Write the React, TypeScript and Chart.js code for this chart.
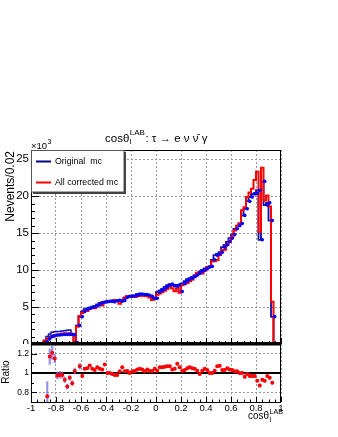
import React, { useEffect, useRef } from 'react';
import { Chart, registerables } from 'chart.js';
Chart.register(...registerables);

const FONT = '"Liberation Sans", Arial, Helvetica, sans-serif';

const binLow = -1;
const binWidth = 0.02;

// Original mc (blue markers), in units of 10^3 events / 0.02
const originalPts = [
  0, 0, 0, 0, 0, 0, 0.3, 0.7, 1.0, 1.1,
  1.2, 1.22, 1.25, 1.28, 1.3, 1.3, 1.32, 1.25, 0.2, 2.5,
  3.7, 4.4, 4.7, 4.8, 4.95, 5.05, 5.15, 5.35, 5.55, 5.65,
  5.7, 5.75, 5.8, 5.7, 5.85, 5.9, 5.8, 5.9, 6.3, 6.45,
  6.5, 6.5, 6.55, 6.75, 6.75, 6.7, 6.7, 6.6, 6.45, 6.2,
  6.2, 7.05, 7.25, 7.45, 7.7, 7.95, 8.1, 7.9, 7.85, 8.0,
  7.1, 8.2, 8.5, 8.75, 8.9, 9.1, 9.3, 9.55, 9.8, 10.0,
  10.2, 10.4, 10.5, 11.4, 12.0, 12.2, 12.4, 13.1, 13.4, 13.85,
  14.3, 14.8, 15.6, 16.0, 16.3, 17.4, 18.3, 19.3, 19.9, 20.3,
  20.4, 20.8, 14.1, 22.0, 18.8, 19.1, 16.7, 3.7, 0, 0,
];

// Original mc histogram outline (blue line)
const originalHist = [
  0, 0, 0, 0, 0, 0, 0.5, 1.0, 1.35, 1.6,
  1.65, 1.7, 1.7, 1.75, 1.8, 1.85, 1.9, 1.4, 0.2, 2.5,
  3.7, 4.4, 4.7, 4.8, 4.95, 5.05, 5.15, 5.35, 5.55, 5.65,
  5.7, 5.75, 5.8, 5.7, 5.85, 5.9, 5.8, 5.9, 6.3, 6.45,
  6.5, 6.5, 6.55, 6.75, 6.75, 6.7, 6.7, 6.6, 6.45, 6.2,
  6.2, 7.05, 7.25, 7.45, 7.7, 7.95, 8.1, 7.9, 7.85, 8.0,
  7.1, 8.2, 8.5, 8.75, 8.9, 9.1, 9.3, 9.55, 9.8, 10.0,
  10.2, 10.4, 10.5, 11.4, 12.0, 12.2, 12.4, 13.1, 13.4, 13.85,
  14.3, 14.8, 15.6, 16.0, 16.3, 17.4, 18.3, 19.3, 19.9, 20.3,
  20.4, 20.8, 14.1, 22.0, 18.8, 19.1, 16.7, 3.7, 0, 0,
];

// All corrected mc (red histogram)
const corrected = [
  0, 0, 0, 0, 0, 0, 0.4, 0.6, 0.83, 0.95,
  1.23, 1.25, 1.28, 1.38, 1.45, 1.37, 1.45, 1.22, 0, 2.35,
  3.8, 4.2, 4.5, 4.45, 4.75, 4.9, 4.85, 5.1, 5.35, 5.2,
  5.7, 5.75, 5.85, 5.8, 5.95, 5.8, 5.45, 5.8, 6.2, 6.45,
  6.4, 6.35, 6.35, 6.45, 6.5, 6.6, 6.5, 6.45, 6.3, 5.95,
  6.05, 6.65, 6.85, 7.0, 7.2, 7.45, 7.8, 7.55, 7.15, 7.55,
  6.95, 7.95, 8.1, 8.25, 8.5, 8.7, 9.1, 9.65, 9.55, 9.55,
  9.9, 10.4, 10.5, 11.15, 11.2, 11.35, 12.05, 12.7, 12.75, 13.4,
  13.9, 14.55, 15.35, 16.0, 16.3, 18.1, 18.5, 19.9, 20.5, 21.0,
  22.2, 23.3, 15.2, 23.85, 19.4, 20.1, 18.6, 5.7, 0, 0,
];

// Ratio points
const ratio = [
  null, null, null, null, null, null, 0.76, 1.17, 1.21, 1.15,
  0.975, 0.98, 0.98, 0.93, 0.86, 0.95, 0.895, 1.02, null, 1.07,
  0.97, 1.045, 1.05, 1.077, 1.045, 1.03, 1.06, 1.045, 1.035, 1.087,
  1.0, 1.0, 0.99, 0.98, 0.98, 1.017, 1.06, 1.017, 1.02, 1.0,
  1.017, 1.02, 1.035, 1.045, 1.035, 1.017, 1.035, 1.02, 1.02, 1.045,
  1.024, 1.06, 1.06, 1.065, 1.07, 1.07, 1.035, 1.045, 1.095, 1.06,
  1.024, 1.03, 1.05, 1.06, 1.05, 1.045, 1.024, 0.99, 1.024, 1.045,
  1.03, 1.0, 1.0, 1.024, 1.07, 1.075, 1.03, 1.03, 1.05, 1.035,
  1.03, 1.017, 1.017, 1.0, 1.0, 0.96, 0.99, 0.97, 0.97, 0.97,
  0.92, 0.87, 0.93, 0.92, 0.97, 0.95, 0.9, null, null, null,
];

const ratioErr = [
  0, 0, 0, 0, 0, 0, 0.15, 0.08, 0.07, 0.045,
  0.035, 0.035, 0.03, 0.03, 0.025, 0.025, 0.025, 0.03, 0, 0.03,
  0.02, 0.012, 0.012, 0.012, 0.012, 0.012, 0.012, 0.012, 0.012, 0.012,
  0.012, 0.012, 0.012, 0.012, 0.012, 0.012, 0.012, 0.012, 0.012, 0.012,
  0.012, 0.012, 0.012, 0.012, 0.012, 0.012, 0.012, 0.012, 0.012, 0.012,
  0.012, 0.012, 0.012, 0.012, 0.012, 0.012, 0.012, 0.012, 0.012, 0.012,
  0.012, 0.012, 0.012, 0.012, 0.012, 0.012, 0.012, 0.012, 0.012, 0.012,
  0.012, 0.012, 0.012, 0.012, 0.012, 0.012, 0.012, 0.012, 0.012, 0.012,
  0.012, 0.012, 0.012, 0.012, 0.012, 0.015, 0.015, 0.015, 0.015, 0.015,
  0.015, 0.015, 0.015, 0.015, 0.015, 0.015, 0.015, 0, 0, 0,
];

const xTickValues = [-1, -0.8, -0.6, -0.4, -0.2, 0, 0.2, 0.4, 0.6, 0.8, 1];
const xTickLabels = ['-1', '-0.8', '-0.6', '-0.4', '-0.2', '0', '0.2', '0.4', '0.6', '0.8', '1'];
const topTickValues = [0, 5, 10, 15, 20, 25];
const topTickLabels = ['0', '5', '10', '15', '20', '25'];
const ratioTickValues = [0.8, 1, 1.2];
const ratioTickLabels = ['0.8', '1', '1.2'];
const legendLabels = ['Original  mc', 'All corrected mc'];
const yTitle = 'Nevents/0.02';
const ratioTitle = 'Ratio';

const BLUE_LINE = '#1414a8';
const BLUE_PT = '#0000ff';
const RED = '#ff0000';
const GRID = '#9a9a9a';

function stepSeries(vals: number[]) {
  const pts = vals.map((v, i) => ({ x: binLow + i * binWidth, y: v }));
  pts.push({ x: binLow + vals.length * binWidth, y: vals[vals.length - 1] });
  return pts;
}
function centerPoints(vals: (number | null)[]) {
  const out: { x: number; y: number }[] = [];
  vals.forEach((v, i) => {
    if (v !== null && v > 0) out.push({ x: binLow + (i + 0.5) * binWidth, y: v });
  });
  return out;
}
function errorBars(vals: (number | null)[], errs: number[]) {
  const out: { x: number; y: [number, number] }[] = [];
  vals.forEach((v, i) => {
    if (v !== null && errs[i] > 0) out.push({ x: binLow + (i + 0.5) * binWidth, y: [v - errs[i], v + errs[i]] });
  });
  return out;
}

function line(ctx: CanvasRenderingContext2D, x1: number, y1: number, x2: number, y2: number) {
  ctx.beginPath();
  ctx.moveTo(x1, y1);
  ctx.lineTo(x2, y2);
  ctx.stroke();
}

const topDecor = {
  id: 'topDecor',
  afterDraw(chart: any) {
    const { ctx, chartArea: a, scales } = chart;
    const x = scales.x, y = scales.y;
    ctx.save();
    ctx.strokeStyle = '#000';
    ctx.lineWidth = 1;
    // y ticks (inside)
    for (let k = 0; k <= 26; k++) {
      const py = Math.round(y.getPixelForValue(k)) + 0.5;
      const len = k % 5 === 0 ? 8 : 4;
      line(ctx, a.left, py, a.left + len, py);
    }
    // x ticks at bottom of top pad
    for (let k = 0; k <= 40; k++) {
      const v = -1 + k * 0.05;
      const px = Math.round(x.getPixelForValue(v)) + 0.5;
      const len = k % 4 === 0 ? 6 : 3;
      line(ctx, px, a.bottom, px, a.bottom - len);
    }
    // frame
    ctx.strokeRect(a.left + 0.5, a.top + 0.5, a.right - a.left - 1, a.bottom - a.top);
    ctx.lineWidth = 2;
    line(ctx, a.left, a.bottom - 1, a.right, a.bottom - 1);

    // title
    ctx.fillStyle = '#000';
    ctx.textAlign = 'left';
    ctx.textBaseline = 'alphabetic';
    let tx = 105;
    const tb = 141.5;
    ctx.font = `11.5px ${FONT}`;
    ctx.fillText('cosθ', tx, tb);
    tx += ctx.measureText('cosθ').width;
    ctx.font = `8px ${FONT}`;
    ctx.fillText('LAB', tx + 0.5, tb - 6.5);
    ctx.fillText('l', tx + 0.5, tb + 2.5);
    tx += ctx.measureText('LAB').width + 1;
    ctx.font = `11.5px ${FONT}`;
    ctx.fillText(': τ → e ν ν̄ γ', tx, tb);

    // x10^3
    ctx.font = `9.5px ${FONT}`;
    ctx.fillText('×10', 31, 148.5);
    const w10 = ctx.measureText('×10').width;
    ctx.font = `7px ${FONT}`;
    ctx.fillText('3', 31 + w10 + 0.5, 144);

    // y title
    ctx.save();
    ctx.translate(10.5, 151);
    ctx.rotate(-Math.PI / 2);
    ctx.font = `12px ${FONT}`;
    ctx.textAlign = 'right';
    ctx.textBaseline = 'middle';
    ctx.fillText(yTitle, 0, 0);
    ctx.restore();

    // legend
    ctx.fillStyle = '#fff';
    ctx.fillRect(31.5, 150.5, 92.5, 41.5);
    ctx.strokeStyle = '#555';
    ctx.lineWidth = 1;
    ctx.strokeRect(31.5, 150.5, 92.5, 41.5);
    ctx.strokeStyle = '#444';
    ctx.lineWidth = 2;
    ctx.beginPath();
    ctx.moveTo(33, 193);
    ctx.lineTo(125, 193);
    ctx.lineTo(125, 152);
    ctx.stroke();
    ctx.lineWidth = 2;
    ctx.strokeStyle = '#000088';
    line(ctx, 36, 161.5, 51, 161.5);
    ctx.strokeStyle = RED;
    line(ctx, 36, 182.5, 51, 182.5);
    ctx.fillStyle = '#000';
    ctx.font = `8.8px ${FONT}`;
    ctx.textBaseline = 'middle';
    ctx.textAlign = 'left';
    ctx.fillText(legendLabels[0], 55, 161.5);
    ctx.fillText(legendLabels[1], 55, 182.5);
    ctx.restore();
  },
};

const ratioDecor = {
  id: 'ratioDecor',
  beforeDatasetsDraw(chart: any) {
    const { ctx, chartArea: a, scales } = chart;
    const py = scales.y.getPixelForValue(1);
    ctx.save();
    ctx.strokeStyle = '#000';
    ctx.lineWidth = 2;
    line(ctx, a.left, py, a.right, py);
    ctx.restore();
  },
  afterDraw(chart: any) {
    const { ctx, chartArea: a, scales } = chart;
    const x = scales.x, y = scales.y;
    ctx.save();
    ctx.strokeStyle = '#000';
    ctx.lineWidth = 1;
    for (let k = 0; k <= 6; k++) {
      const v = 0.7 + k * 0.1;
      const py = Math.round(y.getPixelForValue(v)) + 0.5;
      const len = k % 2 === 1 ? 6 : 3;
      line(ctx, a.left, py, a.left + len, py);
    }
    for (let k = 0; k <= 40; k++) {
      const v = -1 + k * 0.05;
      const px = Math.round(x.getPixelForValue(v)) + 0.5;
      const len = k % 4 === 0 ? 5 : 2.5;
      line(ctx, px, a.bottom, px, a.bottom - len);
    }
    ctx.strokeRect(a.left + 0.5, a.top, a.right - a.left - 1, a.bottom - a.top + 0.5);
    ctx.lineWidth = 3;
    line(ctx, a.left, a.top, a.right, a.top);

    ctx.fillStyle = '#000';
    // Ratio title
    ctx.save();
    ctx.translate(6.5, 28);
    ctx.rotate(-Math.PI / 2);
    ctx.font = `10px ${FONT}`;
    ctx.textAlign = 'center';
    ctx.textBaseline = 'middle';
    ctx.fillText(ratioTitle, 0, 0);
    ctx.restore();

    // x title
    ctx.textAlign = 'left';
    ctx.textBaseline = 'alphabetic';
    ctx.font = `10px ${FONT}`;
    const base = 74.5;
    ctx.fillText('cosθ', 248, base);
    const wc = ctx.measureText('cosθ').width;
    ctx.font = `7px ${FONT}`;
    ctx.fillText('LAB', 248 + wc + 0.5, base - 5);
    ctx.fillText('l', 248 + wc + 0.5, base + 3);
    ctx.restore();
  },
};

function topConfig(): any {
  return {
    type: 'line',
    data: {
      datasets: [
        {
          label: 'Original mc points',
          data: centerPoints(originalPts),
          showLine: false,
          pointRadius: 1.8,
          pointHoverRadius: 0,
          pointBackgroundColor: BLUE_PT,
          pointBorderWidth: 0,
          order: 0,
        },
        {
          label: 'All corrected mc',
          data: stepSeries(corrected),
          stepped: 'after',
          borderColor: RED,
          borderWidth: 2,
          pointRadius: 0,
          pointHoverRadius: 0,
          fill: false,
          order: 1,
        },
        {
          label: 'Original mc',
          data: stepSeries(originalPts),
          stepped: 'after',
          borderColor: BLUE_LINE,
          borderWidth: 1.5,
          pointRadius: 0,
          pointHoverRadius: 0,
          fill: false,
          order: 2,
        },
        {
          label: 'Original mc outline',
          data: stepSeries(originalHist),
          stepped: 'after',
          borderColor: BLUE_LINE,
          borderWidth: 1.5,
          pointRadius: 0,
          pointHoverRadius: 0,
          fill: false,
          order: 3,
        },
      ],
    },
    options: {
      responsive: false,
      animation: false,
      devicePixelRatio: 1,
      events: [],
      layout: { autoPadding: false, padding: { left: 0, right: 57, top: 150, bottom: 0 } },
      plugins: { legend: { display: false }, tooltip: { enabled: false }, title: { display: false } },
      scales: {
        x: {
          type: 'linear',
          min: -1,
          max: 1,
          offset: false,
          afterBuildTicks: (s: any) => { s.ticks = xTickValues.map((v) => ({ value: v })); },
          ticks: { display: false },
          grid: { color: GRID, drawTicks: false, offset: false },
          border: { display: false, dash: [2, 2] },
          afterFit: (s: any) => { s.height = 0; s.paddingLeft = 0; s.paddingRight = 0; },
        },
        y: {
          type: 'linear',
          min: 0,
          max: 26.25,
          afterBuildTicks: (s: any) => { s.ticks = topTickValues.map((v) => ({ value: v })); },
          ticks: {
            callback: (_v: any, i: number) => topTickLabels[i],
            font: { family: FONT, size: 11.5 },
            color: '#000',
            padding: 2,
          },
          grid: { color: GRID, drawTicks: false },
          border: { display: false, dash: [2, 2] },
          afterFit: (s: any) => { s.width = 31; s.paddingTop = 0; s.paddingBottom = 0; },
        },
      },
    },
    plugins: [topDecor],
  };
}

function bottomConfig(): any {
  return {
    type: 'line',
    data: {
      datasets: [
        {
          type: 'line',
          label: 'Ratio',
          data: centerPoints(ratio),
          showLine: false,
          pointRadius: 2,
          pointHoverRadius: 0,
          pointBackgroundColor: RED,
          pointBorderWidth: 0,
          order: 0,
        },
        {
          type: 'bar',
          label: 'Ratio error',
          data: errorBars(ratio, ratioErr),
          backgroundColor: 'rgba(110,110,225,0.75)',
          barThickness: 1.5,
          grouped: false,
          order: 1,
        },
      ],
    },
    options: {
      responsive: false,
      animation: false,
      devicePixelRatio: 1,
      events: [],
      layout: { autoPadding: false, padding: { left: 0, right: 57, top: 0, bottom: 0 } },
      plugins: { legend: { display: false }, tooltip: { enabled: false } },
      scales: {
        x: {
          type: 'linear',
          min: -1,
          max: 1,
          offset: false,
          afterBuildTicks: (s: any) => { s.ticks = xTickValues.map((v) => ({ value: v })); },
          ticks: {
            callback: (_v: any, i: number) => xTickLabels[i],
            font: { family: FONT, size: 9.5 },
            color: '#000',
            padding: 1,
            maxRotation: 0,
            autoSkip: false,
          },
          grid: { color: GRID, drawTicks: false, offset: false },
          border: { display: false, dash: [2, 2] },
          afterFit: (s: any) => { s.height = 35; s.paddingLeft = 0; s.paddingRight = 0; },
        },
        y: {
          type: 'linear',
          min: 0.7,
          max: 1.3,
          afterBuildTicks: (s: any) => { s.ticks = ratioTickValues.map((v) => ({ value: v })); },
          ticks: {
            callback: (_v: any, i: number) => ratioTickLabels[i],
            font: { family: FONT, size: 8.5 },
            color: '#000',
            padding: 2,
          },
          grid: { color: GRID, drawTicks: false },
          border: { display: false, dash: [2, 2] },
          afterFit: (s: any) => { s.width = 31; s.paddingTop = 0; s.paddingBottom = 0; },
        },
      },
    },
    plugins: [ratioDecor],
  };
}

export default function App() {
  const topRef = useRef<HTMLCanvasElement>(null);
  const botRef = useRef<HTMLCanvasElement>(null);
  useEffect(() => {
    const top = new Chart(topRef.current as HTMLCanvasElement, topConfig());
    const bot = new Chart(botRef.current as HTMLCanvasElement, bottomConfig());
    return () => {
      top.destroy();
      bot.destroy();
    };
  }, []);
  return (
    <div style={{ position: 'fixed', left: 0, top: 0, width: 338, height: 437, background: '#fff' }}>
      <canvas
        ref={topRef}
        width={338}
        height={344}
        style={{ position: 'absolute', left: 0, top: 0, width: 338, height: 344, display: 'block' }}
      />
      <canvas
        ref={botRef}
        width={338}
        height={93}
        style={{ position: 'absolute', left: 0, top: 344, width: 338, height: 93, display: 'block' }}
      />
    </div>
  );
}
